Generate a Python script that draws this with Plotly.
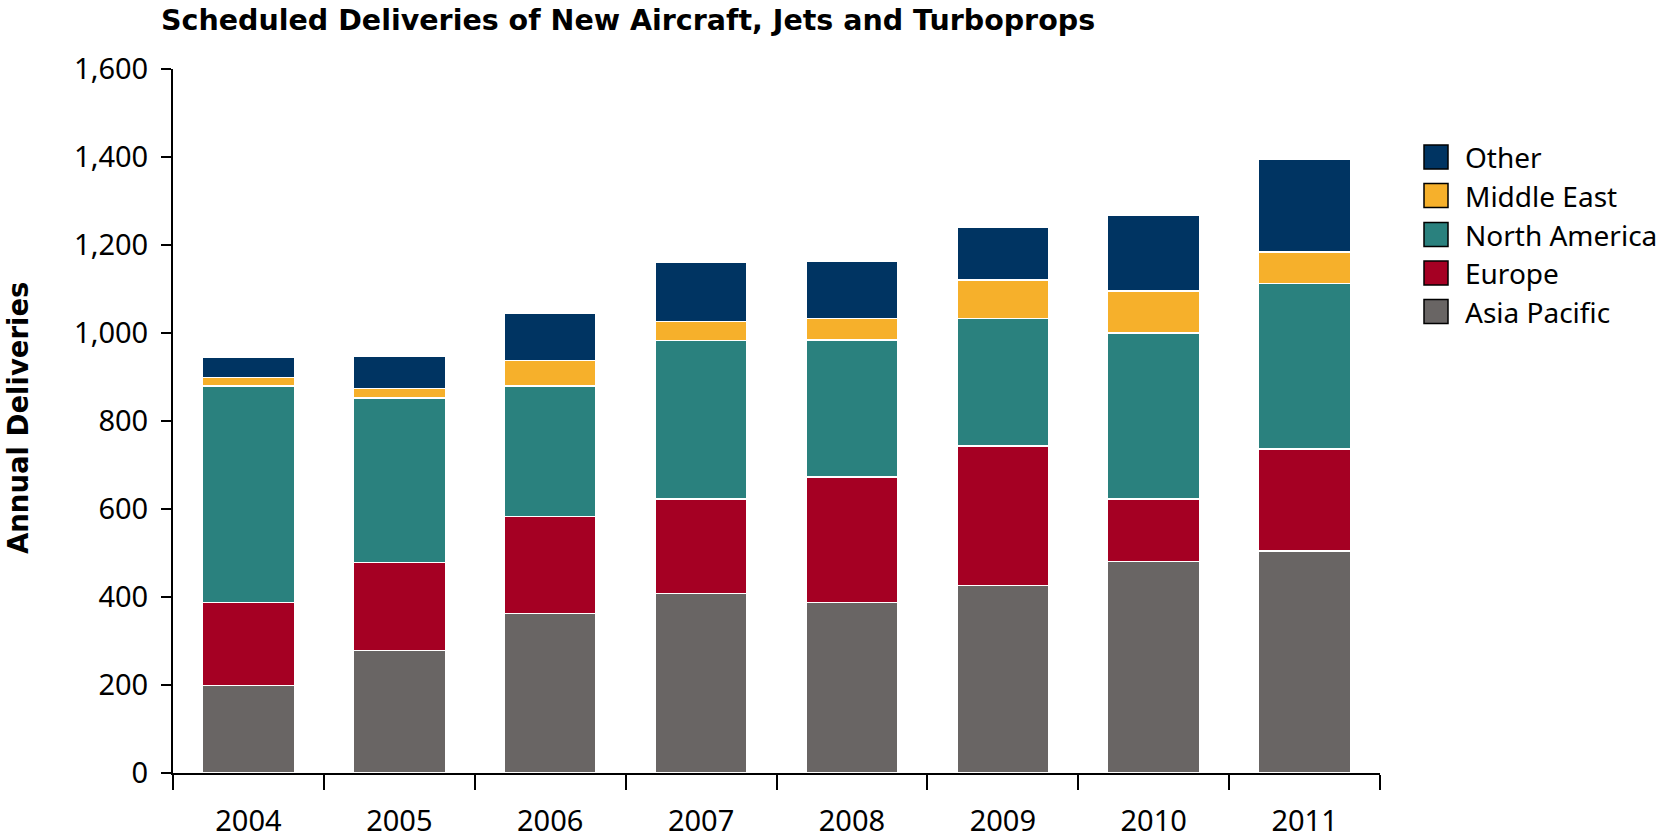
import plotly.graph_objects as go

# Annual deliveries by region
years = ["2004", "2005", "2006", "2007", "2008", "2009", "2010", "2011"]
asia_pacific = [199, 278, 363, 408, 388, 426, 481, 505]
europe = [188, 200, 220, 215, 285, 317, 142, 231]
north_america = [493, 374, 297, 360, 311, 290, 377, 376]
middle_east = [19, 22, 58, 43, 49, 88, 95, 72]
other = [47, 73, 106, 134, 131, 119, 172, 212]

series_names = ["Asia Pacific", "Europe", "North America", "Middle East", "Other"]
series_values = [asia_pacific, europe, north_america, middle_east, other]
series_colors = ["#696564", "#A50023", "#2A817E", "#F6B02B", "#003462"]

y_ticks = [0, 200, 400, 600, 800, 1000, 1200, 1400, 1600]

FONT = "Noto Sans"
BOLD_FONT = "DejaVu Sans"

fig = go.Figure()
for name, vals, col in zip(series_names, series_values, series_colors):
    fig.add_trace(go.Bar(
        x=years, y=vals, name=name,
        marker=dict(color=col, line=dict(color="white", width=1.5)),
        showlegend=False,
    ))

# Plot-area geometry in pixels (used for the legend placement)
W, H = 1666, 840
L, R, T, B = 173, 286, 69, 67
pw, ph = W - L - R, H - T - B


def px_to_paper(px, py):
    return (px - L) / pw, (H - B - py) / ph


# Legend: top entry is the last stacked series
shapes = []
annotations = []
legend_centers = [157, 195.5, 234.5, 273, 311.5]
for i, (name, col) in enumerate(zip(series_names[::-1], series_colors[::-1])):
    cy = legend_centers[i]
    x0, y0 = px_to_paper(1424, cy - 12)
    x1, y1 = px_to_paper(1448, cy + 12)
    shapes.append(dict(type="rect", xref="paper", yref="paper",
                       x0=x0, x1=x1, y0=y1, y1=y0,
                       fillcolor=col, line=dict(color="black", width=1.5)))
    tx, ty = px_to_paper(1463, cy)
    annotations.append(dict(xref="paper", yref="paper", x=tx, y=ty,
                            xanchor="left", yanchor="middle", showarrow=False,
                            text=name, font=dict(family=FONT, size=28, color="black")))

# Vertical axis title
ax, ay = px_to_paper(18, 418)
annotations.append(dict(xref="paper", yref="paper", x=ax, y=ay,
                        xanchor="center", yanchor="middle", showarrow=False,
                        textangle=-90, text="<b>Annual Deliveries</b>",
                        font=dict(family=BOLD_FONT, size=27.5, color="black")))

fig.update_layout(
    barmode="stack",
    bargap=0.39,
    width=W, height=H,
    margin=dict(l=L, r=R, t=T, b=B, autoexpand=False),
    paper_bgcolor="white",
    plot_bgcolor="white",
    title=dict(text="<b>Scheduled Deliveries of New Aircraft, Jets and Turboprops</b>",
               x=161 / W, xanchor="left", y=1 - 20 / H, yanchor="middle",
               font=dict(family=BOLD_FONT, size=28.5, color="black")),
    shapes=shapes,
    annotations=annotations,
    xaxis=dict(
        showline=True, linecolor="black", linewidth=2,
        ticks="outside", tickson="boundaries", ticklen=15, tickwidth=1.5, tickcolor="black",
        tickfont=dict(family=FONT, size=29, color="black"),
        ticklabelstandoff=21,
        showgrid=False, zeroline=False,
    ),
    yaxis=dict(
        range=[0, 1600], tickvals=y_ticks, tickformat=",",
        showline=True, linecolor="black", linewidth=2,
        ticks="outside", ticklen=10, tickwidth=1.5, tickcolor="black",
        tickfont=dict(family=FONT, size=29, color="black"),
        ticklabelstandoff=7,
        showgrid=False, zeroline=False,
    ),
)

fig.write_html("out.html")
